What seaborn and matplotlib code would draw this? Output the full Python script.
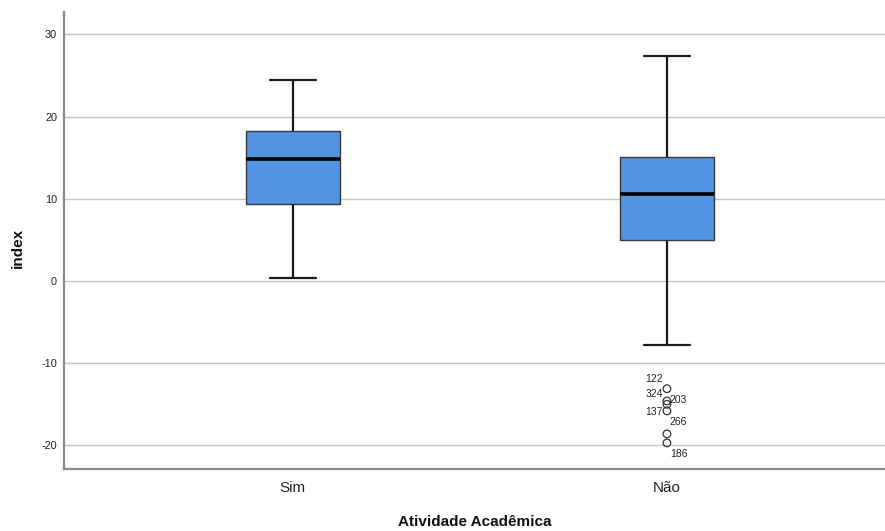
import numpy as np
import pandas as pd
import matplotlib
matplotlib.use("Agg")
import matplotlib.pyplot as plt
import seaborn as sns

# ---- data ----
categories = ["Sim", "Não"]
# five-number summaries: lower whisker, Q1, median, Q3, upper whisker
sim_summary = [0.36, 9.37, 14.84, 18.25, 24.45]
nao_summary = [-7.79, 4.97, 10.56, 15.06, 27.35]
outlier_values = [-13.1, -14.6, -15.0, -15.8, -18.6, -19.7]
outlier_ids = ["122", "324", "203", "137", "266", "186"]
y_ticks = [-20, -10, 0, 10, 20, 30]
x_label = "Atividade Acadêmica"
y_label = "index"

sns.set_theme(style="white")
plt.rcParams["font.family"] = ["Liberation Sans", "DejaVu Sans"]

box_df = pd.DataFrame({
    "group": [categories[0]] * len(sim_summary) + [categories[1]] * len(nao_summary),
    "value": sim_summary + nao_summary,
})
out_df = pd.DataFrame({"group": [categories[1]] * len(outlier_values),
                       "value": outlier_values, "id": outlier_ids})

fig = plt.figure(figsize=(8.85, 5.31), dpi=100)
ax = fig.add_axes([0.0723, 0.1168, 0.9277, 0.8606])

sns.boxplot(data=box_df, x="group", y="value", order=categories, ax=ax,
            whis=(0, 100), width=0.25, color="#5294e2", saturation=1,
            linecolor="#2a2a2a", linewidth=1.0, showfliers=False,
            boxprops=dict(edgecolor="#3a3a3a", linewidth=1.0),
            whiskerprops=dict(color="#1a1a1a", linewidth=1.6),
            capprops=dict(color="#1a1a1a", linewidth=1.6),
            medianprops=dict(color="black", linewidth=2.6),
            capwidths=0.123, zorder=3)

sns.scatterplot(data=out_df, x="group", y="value", ax=ax, marker="o", s=30,
                facecolor="none", edgecolor="#333333", linewidth=0.9, zorder=4,
                legend=False)

# label offsets in pixels (dx, dy) and alignment
label_layout = {
    "122": (-4, 10, "right"),
    "324": (-4, 7, "right"),
    "203": (3, 4, "left"),
    "137": (-4, -1, "right"),
    "266": (3, 12, "left"),
    "186": (3, -11, "left"),
}
for v, lab in zip(outlier_values, outlier_ids):
    dx, dy, ha = label_layout[lab]
    ax.annotate(lab, xy=(1, v), xytext=(dx * 0.72, dy * 0.72),
                textcoords="offset points", ha=ha, va="center",
                fontsize=7.5, color="#222222", zorder=5)

ax.set_ylim(-22.87, 32.73)
ax.set_xlim(-0.612, 1.583)
ax.set_yticks(y_ticks)
ax.set_yticklabels([str(t) for t in y_ticks], fontsize=7.8, color="#222222")
ax.tick_params(axis="x", labelsize=11, colors="#222222", pad=9, length=0)
ax.tick_params(axis="y", length=0, pad=5)
ax.yaxis.grid(True, color="#c6c6c6", linewidth=1.0, zorder=0)
ax.set_axisbelow(True)

for side in ["top", "right"]:
    ax.spines[side].set_visible(False)
for side in ["left", "bottom"]:
    ax.spines[side].set_color("#8a8a8a")
    ax.spines[side].set_linewidth(1.6)

ax.set_xlabel(x_label, fontsize=11, fontweight="bold", color="#111111", labelpad=14)
ax.set_ylabel(y_label, fontsize=11, fontweight="bold", color="#111111")
ax.yaxis.set_label_coords(-0.0475, 0.483)

fig.savefig("out.png", dpi=100)
